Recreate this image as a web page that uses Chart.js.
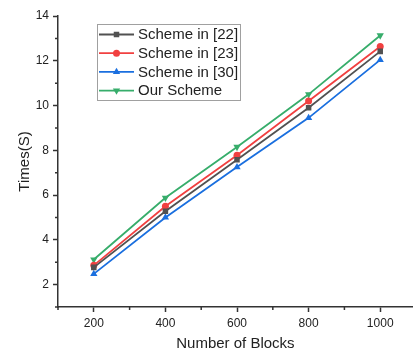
<!DOCTYPE html>
<html>
<head>
<meta charset="utf-8">
<script src="https://cdn.jsdelivr.net/npm/chart.js@4/dist/chart.umd.min.js"></script>
<style>
  html, body { margin: 0; padding: 0; background: #fff; }
  #wrap { width: 417px; height: 353px; }
</style>
</head>
<body>
<div id="wrap"><canvas id="chart"></canvas></div>
<script>
// ==================== DATA ====================
const blocks = [200, 400, 600, 800, 1000];
const scheme22 = [2.77, 5.28, 7.58, 9.9, 12.42];
const scheme23 = [2.86, 5.5, 7.78, 10.2, 12.64];
const scheme30 = [2.48, 5.0, 7.25, 9.45, 12.04];
const ourScheme = [3.12, 5.88, 8.15, 10.5, 13.13];

const xTicks = [200, 400, 600, 800, 1000];
const xMinor = [100, 300, 500, 700, 900];
const yTicks = [2, 4, 6, 8, 10, 12, 14];
const yMinor = [1, 3, 5, 7, 9, 11, 13];

const FONT = '"Liberation Sans", Arial, sans-serif';
const AXIS = '#333';
const TEXT = '#222';

const toPoints = (vals) => vals.map((v, i) => ({ x: blocks[i], y: v }));

// marker sizes roughly match the reference (square ~5.5px, circle ~7px, triangles ~7px wide)
const RADIUS = { rect: 3.9, circle: 3.5, triangle: 4.2 };

function series(label, vals, color, style, rotation) {
  return {
    label,
    data: toPoints(vals),
    borderColor: color,
    backgroundColor: color,
    borderWidth: 1.8,
    pointStyle: style,
    pointRotation: rotation || 0,
    pointRadius: RADIUS[style],
    pointBorderWidth: 0,
    tension: 0,
  };
}

// minor ticks (shorter), drawn on the library's own scales
const minorTicks = {
  id: 'minorTicks',
  afterDraw(chart) {
    const { ctx, scales } = chart;
    const xs = scales.x, ys = scales.y;
    ctx.save();
    ctx.strokeStyle = AXIS;
    ctx.lineWidth = 1.5;
    ctx.beginPath();
    xMinor.forEach((v) => {
      const px = xs.getPixelForValue(v);
      ctx.moveTo(px, xs.top);
      ctx.lineTo(px, xs.top + 3);
    });
    yMinor.forEach((v) => {
      const py = ys.getPixelForValue(v);
      ctx.moveTo(ys.right, py);
      ctx.lineTo(ys.right - 3, py);
    });
    ctx.stroke();
    ctx.restore();
  },
};

// legend box inside the plot, top-left
const insideLegend = {
  id: 'insideLegend',
  afterDraw(chart) {
    const { ctx } = chart;
    const box = { x: 97.5, y: 24.5, w: 143, h: 76 };
    ctx.save();
    ctx.fillStyle = '#fff';
    ctx.fillRect(box.x, box.y, box.w, box.h);
    ctx.strokeStyle = '#a0a0a0';
    ctx.lineWidth = 1;
    ctx.strokeRect(box.x, box.y, box.w, box.h);
    ctx.font = '15px ' + FONT;
    ctx.textBaseline = 'middle';
    chart.data.datasets.forEach((ds, i) => {
      const y = 34.5 + i * 18.7;
      ctx.strokeStyle = ds.borderColor;
      ctx.lineWidth = 1.8;
      ctx.beginPath();
      ctx.moveTo(99, y);
      ctx.lineTo(134, y);
      ctx.stroke();
      ctx.fillStyle = ds.backgroundColor;
      Chart.helpers.drawPoint(ctx, {
        pointStyle: ds.pointStyle,
        radius: ds.pointRadius,
        rotation: ds.pointRotation,
        borderWidth: 0,
      }, 116.5, y);
      ctx.fillStyle = TEXT;
      ctx.fillText(ds.label, 138, y + 0.5);
    });
    ctx.restore();
  },
};

new Chart(document.getElementById('chart'), {
  type: 'line',
  data: {
    datasets: [
      series('Scheme in [22]', scheme22, '#515151', 'rect'),
      series('Scheme in [23]', scheme23, '#F14040', 'circle'),
      series('Scheme in [30]', scheme30, '#1A6FDF', 'triangle'),
      series('Our Scheme', ourScheme, '#37AD6B', 'triangle', 180),
    ],
  },
  options: {
    responsive: true,
    maintainAspectRatio: false,
    animation: false,
    layout: { padding: { left: 0, top: 16, right: 0, bottom: 0 } },
    plugins: { legend: { display: false }, tooltip: { enabled: false } },
    scales: {
      x: {
        type: 'linear',
        min: 100,
        max: 1091,
        afterBuildTicks: (s) => { s.ticks = xTicks.map((v) => ({ value: v })); },
        afterFit: (s) => { s.height = 46; },
        grid: { drawOnChartArea: false, tickLength: 5, tickColor: AXIS, tickWidth: 1.5 },
        border: { color: AXIS, width: 1.5 },
        ticks: { font: { family: FONT, size: 12 }, color: TEXT, padding: 4, maxRotation: 0,
                 callback: (v) => String(v) },
        title: { display: true, text: 'Number of Blocks', color: TEXT,
                 font: { family: FONT, size: 15 }, padding: { top: 0, bottom: 0 } },
      },
      y: {
        min: 1,
        max: 14,
        afterBuildTicks: (s) => { s.ticks = yTicks.map((v) => ({ value: v })); },
        afterFit: (s) => { s.width = 58; },
        grid: { drawOnChartArea: false, tickLength: 5, tickColor: AXIS, tickWidth: 1.5 },
        border: { color: AXIS, width: 1.5 },
        ticks: { font: { family: FONT, size: 12 }, color: TEXT, padding: 4,
                 callback: (v) => String(v) },
        title: { display: true, text: 'Times(S)', color: TEXT,
                 font: { family: FONT, size: 15 }, padding: { top: 16, bottom: 0 } },
      },
    },
  },
  plugins: [minorTicks, insideLegend],
});
</script>
</body>
</html>
